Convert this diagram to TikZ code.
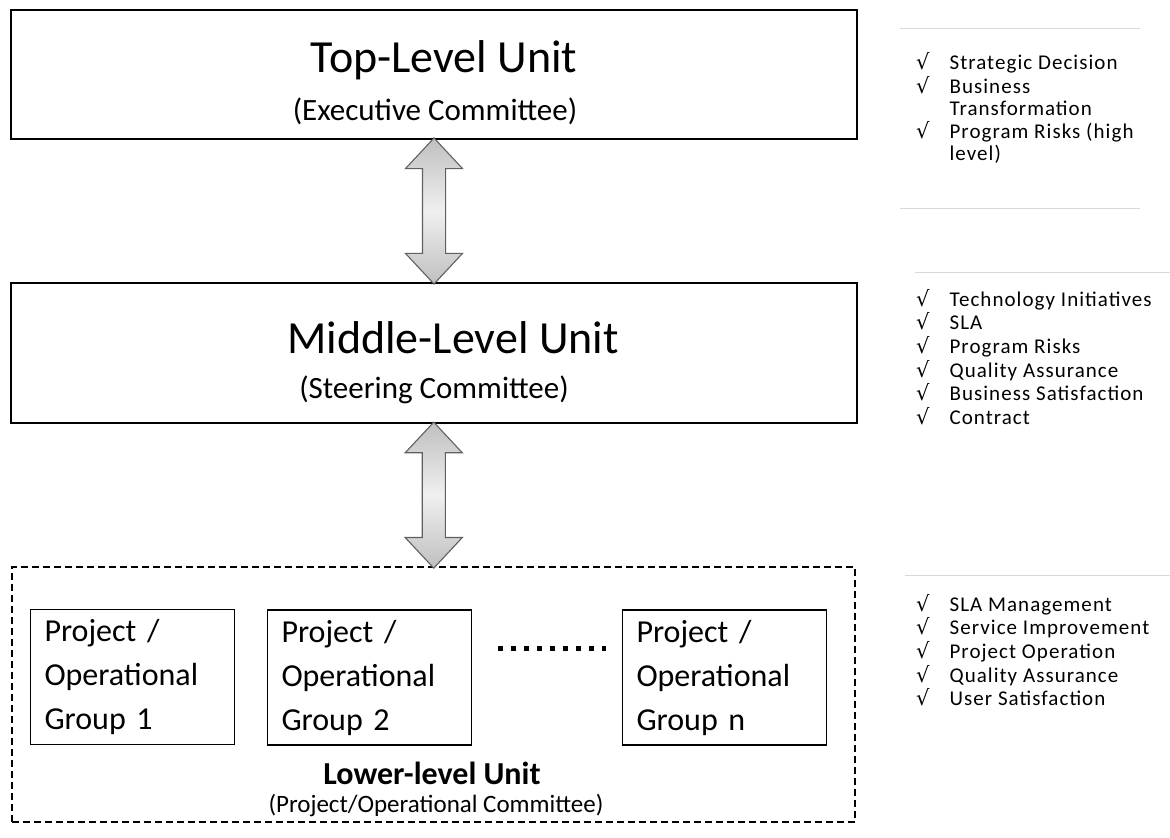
\documentclass[tikz,border=0pt]{standalone}
\usepackage{fontspec}
\setmainfont{Carlito}
\newfontfamily\chkfont{DejaVu Sans}
\usetikzlibrary{positioning}
\usetikzlibrary{shapes.arrows}
\usetikzlibrary{calc}
\newcommand{\chk}{{\chkfont\char"221A}}
\tikzset {
  unit box/.style = {
    draw = black,
    line width = 2.6pt,
    rectangle,
    minimum width = 846pt,
    inner sep = 0
  },
  % headings inside the unit boxes
  unit title/.style = {
    anchor = base,
    font = \fontsize{46}{50}\selectfont
  },
  unit sub/.style = {
    anchor = base,
    font = \fontsize{31}{34}\selectfont
  },
  % one project / operational group
  group box/.style = {
    draw = black,
    line width = 1.2pt,
    rectangle,
    minimum width = 204pt,
    minimum height = 135pt,
    text width = 176pt,
    inner xsep = 14pt,
    align = left,
    font = \fontsize{32}{44}\selectfont
  },
  % two-way link between the levels
  link arrow/.style = {
    double arrow,
    draw = gray!75!black,
    line width = 1.1pt,
    top color = gray!50,
    bottom color = gray!50,
    middle color = gray!12,
    rotate = 90,
    inner sep = 11pt,
    double arrow head extend = 17pt,
    double arrow tip angle = 86,
    double arrow head indent = 0pt
  },
  duty list/.style = {
    anchor = north west,
    inner sep = 0,
    align = left,
    font = \fontsize{21}{22}\selectfont\addfontfeature{LetterSpace=5}
  },
  panel rule/.style = {
    draw = gray!30,
    line width = 0.9pt
  }
}

\begin{document}
\begin{tikzpicture}[x=1pt, y=-1pt]
  \useasboundingbox (0,0) rectangle (1170,838);

  % the three levels
  \node[unit box, minimum height = 129pt] (top) at (434,74.5) {};
  \node[unit title] (top-title) at (444,72) {Top-Level Unit};
  \node[unit sub] (top-sub) at (435,120) {(Executive Committee)};

  \node[unit box, minimum height = 140pt] (mid) at (434,353) {};
  \node[unit title] (mid-title) at (453,353) {Middle-Level Unit};
  \node[unit sub] (mid-sub) at (434,398) {(Steering Committee)};

  \node[draw, line width = 2pt, dash pattern = on 7pt off 4pt,
        minimum width = 843pt, minimum height = 255pt]
        (low) at (433.5,694.5) {};
  \node[anchor = base, font = \fontsize{32}{34}\selectfont\bfseries]
        (low-title) at (432,784) {Lower-level Unit};
  \node[anchor = base, font = \fontsize{25}{28}\selectfont]
        (low-sub) at (436,812) {(Project/Operational Committee)};

  % groups
  \node[group box] (g1) at (132.5,677) {Project /\\Operational\\Group 1};
  \node[group box] (g2) at (369.5,677.5) {Project /\\Operational\\Group 2};
  \node[group box] (gn) at (724.5,677.5) {Project /\\Operational\\Group n};
  \draw[line width = 5pt, dash pattern = on 4.5pt off 8.5pt]
    ([xshift = 26pt, yshift = 29.5pt]g2.east)
    -- ([xshift = -16pt, yshift = 29.5pt]gn.west);

  % links
  \node[link arrow, minimum height = 146pt] (link-tm)
    at ($(top.south)!0.5!(mid.north)$) {};
  \node[link arrow, minimum height = 146pt] (link-ml)
    at ($(mid.south)!0.5!(low.north)$) {};

  % responsibilities
  \path[panel rule] (900,28) -- (1140,28);
  \path[panel rule] (900,208) -- (1140,208);
  \node[duty list] (duty-top) at (916,52.5) {%
    \begin{tabular}{@{}l@{\hspace{20pt}}l@{}}
      \chk & Strategic Decision\\
      \chk & Business\\
           & Transformation\\
      \chk & Program Risks (high\\
           & level)
    \end{tabular}};

  \path[panel rule] (915,272) -- (1170,272);
  \node[duty list] (duty-mid) at (916,289) {%
    \begin{tabular}{@{}l@{\hspace{20pt}}l@{}}
      \chk & Technology Initiatives\\
      \chk & SLA\\
      \chk & Program Risks\\
      \chk & Quality Assurance\\
      \chk & Business Satisfaction\\
      \chk & Contract
    \end{tabular}};

  \path[panel rule] (905,575) -- (1170,575);
  \node[duty list] (duty-low) at (916,594) {%
    \begin{tabular}{@{}l@{\hspace{20pt}}l@{}}
      \chk & SLA Management\\
      \chk & Service Improvement\\
      \chk & Project Operation\\
      \chk & Quality Assurance\\
      \chk & User Satisfaction
    \end{tabular}};
\end{tikzpicture}
\end{document}
